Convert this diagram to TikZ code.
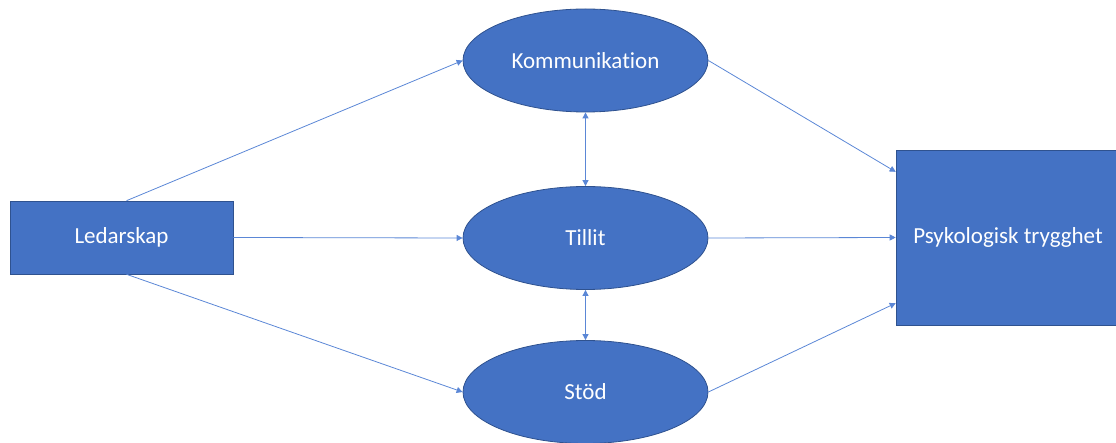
\documentclass[tikz,border=0pt]{standalone}
\usepackage{fontspec}
\setmainfont{Carlito}[Ligatures=NoCommon]
\usetikzlibrary{shapes.geometric,arrows.meta,calc}
\definecolor{fillblue}{HTML}{4472C4}
\definecolor{edgeblue}{HTML}{2F528F}
\definecolor{lineblue}{HTML}{5B87D6}
\begin{document}
\begin{tikzpicture}[x=1pt,y=-1pt,
  lbl/.style={text=white,font=\fontsize{23}{27}\selectfont,inner sep=0pt},
  oval/.style={ellipse,lbl,fill=fillblue,draw=edgeblue,line width=0.8pt,minimum width=245pt,minimum height=103pt},
  box/.style={rectangle,lbl,fill=fillblue,draw=edgeblue,line width=0.6pt},
  conn/.style={draw=lineblue,line width=0.8pt,-{Triangle[width=6pt,length=6pt]}},
  bconn/.style={draw=lineblue,line width=0.8pt,{Triangle[width=6pt,length=6pt]}-{Triangle[width=6pt,length=6pt]}}]
\useasboundingbox (0,0) rectangle (1116,443);
\clip (0,0) rectangle (1116,443);
\node[box,minimum width=223pt,minimum height=73pt] (L) at (121.5,237.5) {Ledarskap};
\node[box,minimum width=224pt,minimum height=175pt] (P) at (1008,237.5) {Psykologisk trygghet};
\node[oval] (K) at (585.5,60.5) {Kommunikation};
\node[oval] (T) at (585.5,238) {Tillit};
\node[oval] (S) at (585.5,392) {Stöd};
\coordinate (Pa) at ($(P.north west)!0.126!(P.south west)$);
\coordinate (Pc) at ($(P.north west)!0.874!(P.south west)$);
\draw[conn] ($(L.north)+(5,0)$) -- (K.west);
\draw[conn] (L.east) -- (T.west);
\draw[conn] ($(L.south)+(5,0)$) -- (S.west);
\draw[conn] (K.east) -- (Pa);
\draw[conn] (T.east) -- (P.west);
\draw[conn] (S.east) -- (Pc);
\draw[bconn] (K.south) -- (T.north);
\draw[bconn] (T.south) -- (S.north);
\end{tikzpicture}
\end{document}
